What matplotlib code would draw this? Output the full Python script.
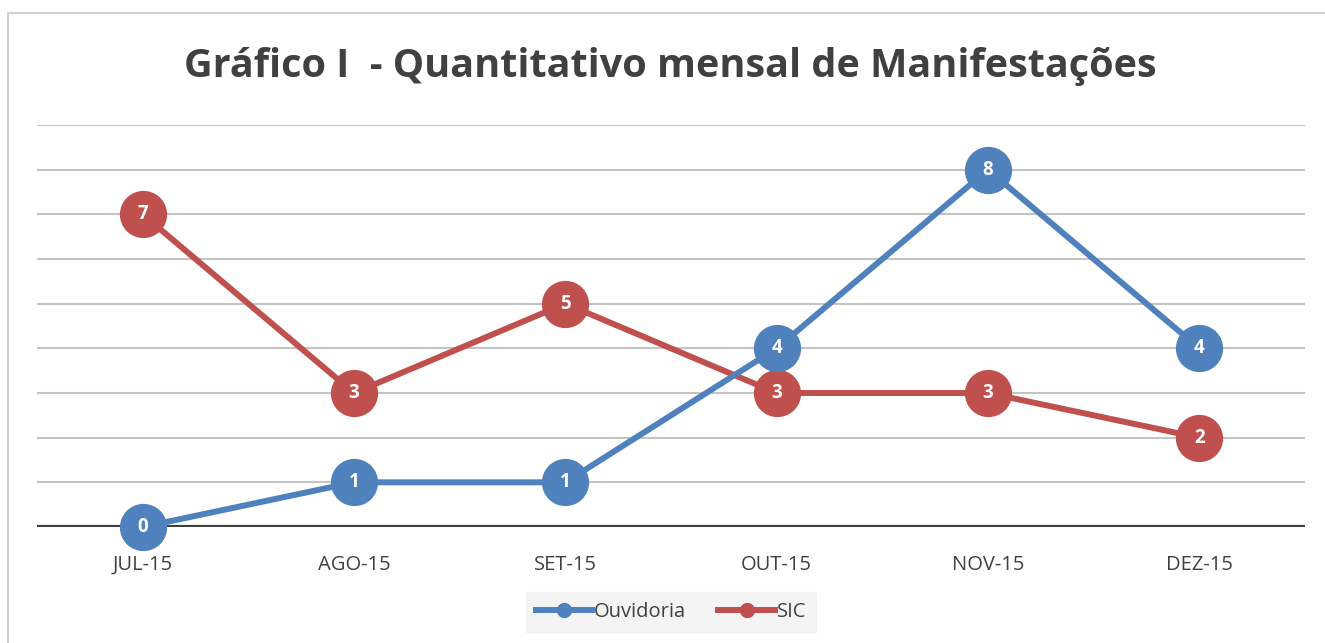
import matplotlib.pyplot as plt
from matplotlib.lines import Line2D

meses = ["JUL-15", "AGO-15", "SET-15", "OUT-15", "NOV-15", "DEZ-15"]
ouvidoria = [0, 1, 1, 4, 8, 4]
sic = [7, 3, 5, 3, 3, 2]

azul = "#4F81BD"
vermelho = "#C0504D"
cinza_txt = "#404040"

plt.rcParams["font.family"] = ["Open Sans", "DejaVu Sans"]

fig = plt.figure(figsize=(13.25, 6.43), dpi=100)
# moldura do grafico (so lado esquerdo e topo aparecem)
bx, by = 8 / 1325, 1 - 13 / 643
fig.lines.append(Line2D([bx, bx, 1.0], [0, by, by], transform=fig.transFigure,
                        color="#D0D0D0", linewidth=1.5))

ax = fig.add_axes([37 / 1325, 116 / 643, 1268 / 1325, 402 / 643])
x = list(range(len(meses)))

for i in range(1, 10):
    ax.axhline(i, color="#C4C4C4", linewidth=1.5, zorder=0)
ax.axhline(0, color=cinza_txt, linewidth=3, zorder=1)

for serie, cor, nome, z in [(sic, vermelho, "SIC", 3), (ouvidoria, azul, "Ouvidoria", 4)]:
    ax.plot(x, serie, color=cor, linewidth=4.3, marker="o", markersize=33,
            solid_capstyle="round", label=nome, zorder=z, clip_on=False)
    for xi, v in zip(x, serie):
        ax.text(xi, v, str(v), color="white", fontsize=13.5, fontweight="bold",
                ha="center", va="center", zorder=z + 0.5)

ax.set_xlim(-0.5, 5.5)
ax.set_ylim(0, 9)
ax.set_xticks(x)
ax.set_xticklabels(meses, fontsize=14.5, color=cinza_txt)
ax.set_yticks([])
ax.tick_params(axis="x", length=0, pad=20)
for s in ax.spines.values():
    s.set_visible(False)

fig.text(670 / 1325, 1 - 67 / 643, "Gráfico I  - Quantitativo mensal de Manifestações",
         ha="center", va="center", fontsize=28.5, fontweight="bold", color=cinza_txt)

leg_handles = [Line2D([], [], color=azul, linewidth=4.3, marker="o", markersize=10),
               Line2D([], [], color=vermelho, linewidth=4.3, marker="o", markersize=10)]
leg = fig.legend(leg_handles, ["Ouvidoria", "SIC"], loc="center",
                 bbox_to_anchor=(671 / 1325, 1 - 612 / 643), ncol=2, frameon=True,
                 fontsize=14.5, handlelength=2.8, handletextpad=0.1, columnspacing=1.6,
                 labelcolor=cinza_txt, fancybox=False, borderpad=0.5)
leg.get_frame().set_facecolor("#F2F2F2")
leg.get_frame().set_edgecolor("#F2F2F2")

fig.savefig("out.png", dpi=100)
